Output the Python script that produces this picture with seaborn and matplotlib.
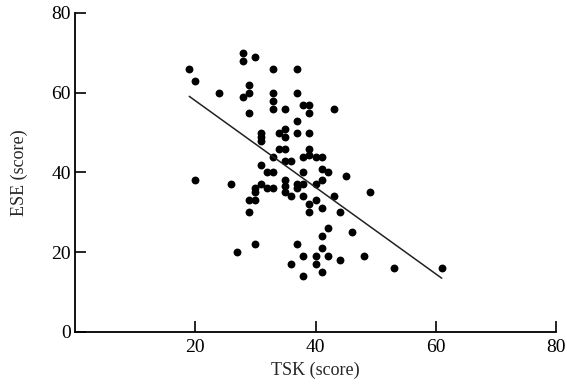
import matplotlib
matplotlib.use('Agg')
import matplotlib.pyplot as plt
import seaborn as sns
import pandas as pd

# TSK score vs ESE score
tsk = [19, 20, 24, 28, 28, 30, 33, 37, 29, 29, 28, 33, 33, 33, 37, 35, 38, 39, 39, 43,
       29, 37, 31, 31, 31, 34, 35, 35, 37, 39, 34, 35, 33, 35, 36, 39, 38, 39, 40, 41,
       31, 32, 33, 38, 41, 42, 45, 20, 26, 35, 35, 35, 36, 37, 37, 38, 38, 39, 39, 40,
       40, 41, 41, 43, 44, 49, 31, 30, 30, 32, 33, 29, 30, 29, 42, 41, 46, 30, 27, 37,
       41, 38, 40, 42, 48, 36, 40, 44, 38, 41, 53, 61]
ese = [66, 63, 60, 70, 68, 69, 66, 66, 62, 60, 59, 60, 58, 56, 60, 56, 57, 57, 55, 56,
       55, 53, 50, 49, 48, 50, 51, 49, 50, 50, 46, 46, 44, 43, 43, 46, 44, 44.5, 44, 44,
       42, 40, 40, 40, 41, 40, 39, 38, 37, 38, 36.5, 35, 34, 37, 36, 37, 34, 32, 30, 37,
       33, 38, 31, 34, 30, 35, 37, 36, 35, 36, 36, 33, 33, 30, 26, 24, 25, 22, 20, 22,
       21, 19, 19, 19, 19, 17, 17, 18, 14, 15, 16, 16]

df = pd.DataFrame({'TSK': tsk, 'ESE': ese})

sns.set_style('white')
plt.rcParams['font.family'] = ['Liberation Serif', 'DejaVu Serif']

fig = plt.figure(figsize=(5.67, 3.86), dpi=100)
ax = fig.add_axes([75 / 567, 1 - 332 / 386, 481 / 567, 319 / 386])

sns.regplot(data=df, x='TSK', y='ESE', ax=ax, ci=None, color='black',
            scatter_kws=dict(s=32, linewidths=0, alpha=1),
            line_kws=dict(lw=1.1, color='#222222'))

ax.set_xlim(0, 80)
ax.set_ylim(0, 80)
ax.set_xticks([20, 40, 60, 80])
ax.set_yticks([0, 20, 40, 60, 80])
ax.tick_params(bottom=True, left=True, direction='in', length=8, width=1.2,
               colors='black', labelsize=14)
ax.tick_params(axis='y', pad=3)
ax.tick_params(axis='x', pad=5)
for side in ['top', 'right']:
    ax.spines[side].set_visible(False)
for side in ['left', 'bottom']:
    ax.spines[side].set_color('black')
    ax.spines[side].set_linewidth(1.3)

ax.set_xlabel('TSK (score)', fontsize=13, labelpad=4)
ax.set_ylabel('ESE (score)', fontsize=13, labelpad=17)

fig.savefig('out.png', dpi=100)
